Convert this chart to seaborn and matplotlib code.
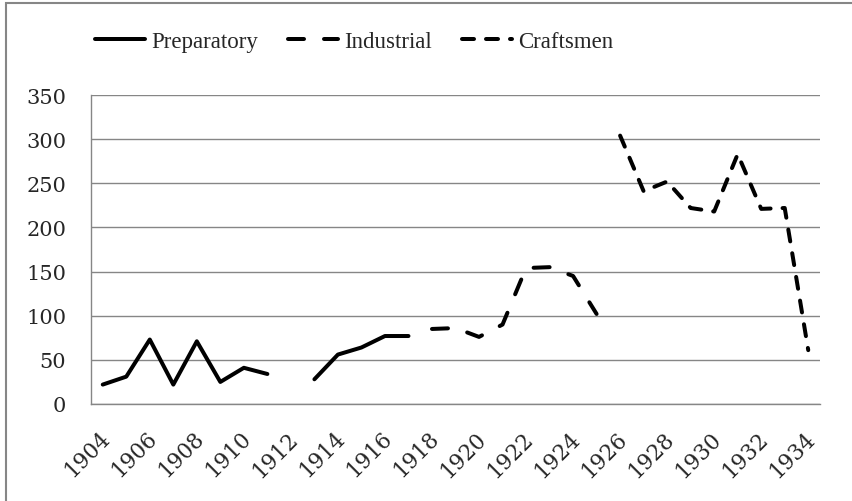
import numpy as np
import pandas as pd
import matplotlib
matplotlib.use("Agg")
import matplotlib.pyplot as plt
import matplotlib.transforms as mtransforms
from matplotlib.patches import Rectangle
from matplotlib.lines import Line2D
import seaborn as sns

# ---------------- data ----------------
all_years = list(range(1904, 1935))
tick_years = list(range(1904, 1935, 2))

preparatory_years = [1904, 1905, 1906, 1907, 1908, 1909, 1910, 1911,
                     1913, 1914, 1915, 1916, 1917]
preparatory = [22, 31, 73, 22, 71, 25, 41, 34,
               28, 56, 64, 77, 77]
preparatory_segment = [0, 0, 0, 0, 0, 0, 0, 0,
                       1, 1, 1, 1, 1]

industrial_years = [1918, 1919, 1920, 1921, 1922, 1923, 1924, 1925]
industrial = [85, 86, 76, 90, 154, 155, 145, 102]

craftsmen_years = [1926, 1927, 1928, 1929, 1930, 1931, 1932, 1933, 1934]
craftsmen = [304, 241, 252, 222, 218, 283, 221, 222, 61]

series_names = ["Preparatory", "Industrial", "Craftsmen"]
y_ticks = [0, 50, 100, 150, 200, 250, 300, 350]

# ---------------- frame ----------------
rows = []
for y, v, s in zip(preparatory_years, preparatory, preparatory_segment):
    rows.append(dict(year=y, value=v, series="Preparatory", seg=f"P{s}"))
for y, v in zip(industrial_years, industrial):
    rows.append(dict(year=y, value=v, series="Industrial", seg="I0"))
for y, v in zip(craftsmen_years, craftsmen):
    rows.append(dict(year=y, value=v, series="Craftsmen", seg="C0"))
df = pd.DataFrame(rows)
df["pos"] = df["year"].map({yr: i for i, yr in enumerate(all_years)})

# ---------------- style ----------------
sns.set_style("white")
plt.rcParams["font.family"] = ["DejaVu Serif"]
plt.rcParams["lines.dash_capstyle"] = "round"
plt.rcParams["lines.solid_capstyle"] = "round"
plt.rcParams["lines.dash_joinstyle"] = "round"
plt.rcParams["lines.solid_joinstyle"] = "round"

GRAY = "#868686"
W, H = 853, 502
fig = plt.figure(figsize=(W / 100, H / 100), dpi=100)
ax = fig.add_axes([91 / W, (H - 405) / H, (820 - 91) / W, (405 - 96) / H])

lw_pt = 4 / 1.3889
dash_map = {"Preparatory": "", "Industrial": (4, 5), "Craftsmen": (3, 3)}

sns.lineplot(data=df, x="pos", y="value", style="series", units="seg",
             estimator=None, dashes=dash_map, color="black", linewidth=lw_pt,
             style_order=series_names, legend=False, ax=ax, sort=False)

# ---------------- axes ----------------
ax.set_xlim(-0.5, len(all_years) - 0.5)
ax.set_ylim(0, 350)
ax.set_xlabel("")
ax.set_ylabel("")

ax.set_yticks(y_ticks)
ax.set_yticklabels([str(t) for t in y_ticks], fontsize=15)
ax.yaxis.grid(True, color=GRAY, linewidth=1.0)
ax.set_axisbelow(True)

tick_pos = [all_years.index(t) for t in tick_years]
ax.set_xticks(tick_pos)
ax.set_xticklabels([str(t) for t in tick_years], fontsize=15.5, rotation=45,
                   ha="right", va="center", rotation_mode="anchor")
ax.set_xticks(np.arange(-0.5, len(all_years), 1.0), minor=True)
ax.tick_params(axis="x", which="major", length=0, pad=22)
ax.tick_params(axis="x", which="minor", length=5.8, width=1.0, color=GRAY,
               direction="out")
ax.tick_params(axis="y", which="major", length=5.8, width=1.0, color=GRAY,
               direction="out", pad=12)

offset = mtransforms.ScaledTranslation(4 / 100, 0, fig.dpi_scale_trans)
for lab in ax.get_xticklabels():
    lab.set_transform(lab.get_transform() + offset)

for side in ["top", "right"]:
    ax.spines[side].set_visible(False)
for side in ["left", "bottom"]:
    ax.spines[side].set_color(GRAY)
    ax.spines[side].set_linewidth(1.0)

# ---------------- legend ----------------
handles = [
    Line2D([], [], color="black", linewidth=lw_pt, linestyle="-"),
    Line2D([], [], color="black", linewidth=lw_pt, linestyle=(0, (4, 5))),
    Line2D([], [], color="black", linewidth=lw_pt, linestyle=(0, (3, 3))),
]
fig.legend(handles, series_names, loc="center left",
           bbox_to_anchor=(95 / W, 1 - 42 / H), ncol=3, frameon=False,
           prop={"family": "Liberation Serif", "size": 16.5},
           handlelength=2.2, handletextpad=0.25, columnspacing=1.3,
           borderpad=0, borderaxespad=0)

# ---------------- chart border ----------------
fig.patches.append(Rectangle((6 / W, -0.2), 1.5, 1.2 - 4 / H,
                             transform=fig.transFigure, fill=False,
                             edgecolor=GRAY, linewidth=1.5, zorder=-1))

fig.savefig("out.png", dpi=100)
